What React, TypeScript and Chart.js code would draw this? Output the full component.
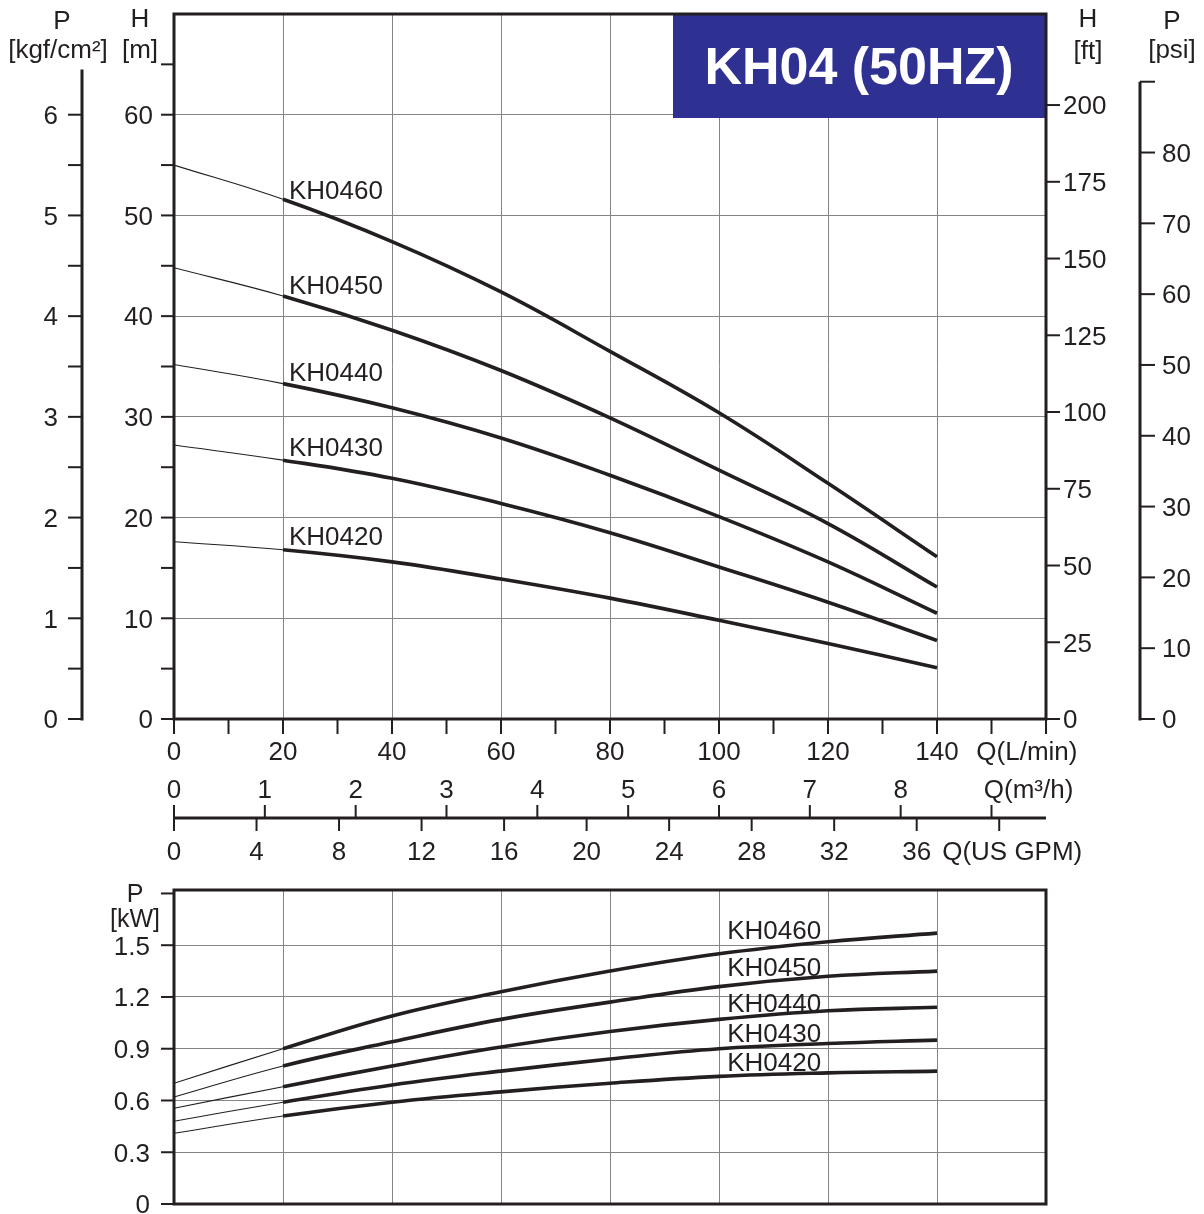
import React, { useEffect, useRef } from 'react';
import { Chart, registerables } from 'chart.js';
Chart.register(...registerables);

// ---------- data ----------
const MODELS = ['KH0460', 'KH0450', 'KH0440', 'KH0430', 'KH0420'];
const FLOW_LPM = [0, 20, 40, 60, 80, 100, 120, 140];

const HEAD_KH0460 = [55.0, 51.6, 47.4, 42.4, 36.5, 30.4, 23.4, 16.1];
const HEAD_KH0450 = [44.8, 42.0, 38.6, 34.6, 29.9, 24.7, 19.4, 13.1];
const HEAD_KH0440 = [35.2, 33.3, 30.9, 27.9, 24.2, 20.1, 15.6, 10.5];
const HEAD_KH0430 = [27.2, 25.7, 23.9, 21.4, 18.5, 15.1, 11.6, 7.8];
const HEAD_KH0420 = [17.6, 16.8, 15.6, 13.9, 12.0, 9.8, 7.5, 5.1];

const POWER_KH0460 = [0.70, 0.90, 1.09, 1.23, 1.35, 1.45, 1.52, 1.57];
const POWER_KH0450 = [0.62, 0.80, 0.94, 1.07, 1.17, 1.26, 1.32, 1.35];
const POWER_KH0440 = [0.555, 0.68, 0.80, 0.91, 1.00, 1.07, 1.12, 1.14];
const POWER_KH0430 = [0.48, 0.59, 0.69, 0.77, 0.84, 0.90, 0.93, 0.95];
const POWER_KH0420 = [0.41, 0.51, 0.59, 0.65, 0.70, 0.74, 0.76, 0.77];

const HEADS = [HEAD_KH0460, HEAD_KH0450, HEAD_KH0440, HEAD_KH0430, HEAD_KH0420];
const POWERS = [POWER_KH0460, POWER_KH0450, POWER_KH0440, POWER_KH0430, POWER_KH0420];

// where the curve names sit (in data units)
const HEAD_LABEL_Q = 21.1;
const HEAD_LABEL_H = [52.6, 43.1, 34.5, 27.0, 18.2];
const POWER_LABEL_Q = 101.5;
const POWER_LABEL_P = [1.59, 1.376, 1.167, 0.993, 0.825];

// tick labels
const M_TICKS = [0, 10, 20, 30, 40, 50, 60];
const M_MINOR = [0, 5, 10, 15, 20, 25, 30, 35, 40, 45, 50, 55, 60, 65];
const KGF_TICKS = [0, 1, 2, 3, 4, 5, 6];
const KGF_MINOR = [0, 0.5, 1, 1.5, 2, 2.5, 3, 3.5, 4, 4.5, 5, 5.5, 6];
const FT_TICKS = [0, 25, 50, 75, 100, 125, 150, 175, 200];
const PSI_TICKS = [0, 10, 20, 30, 40, 50, 60, 70, 80];
const PSI_MARKS = [0, 10, 20, 30, 40, 50, 60, 70, 80, 90];
const LPM_TICKS = [0, 20, 40, 60, 80, 100, 120, 140];
const LPM_MARKS = [0, 10, 20, 30, 40, 50, 60, 70, 80, 90, 100, 110, 120, 130, 140, 150, 160];
const M3H_TICKS = [0, 1, 2, 3, 4, 5, 6, 7, 8];
const M3H_MARKS = [0, 1, 2, 3, 4, 5, 6, 7, 8, 9];
const GPM_TICKS = [0, 4, 8, 12, 16, 20, 24, 28, 32, 36];
const GPM_MARKS = [0, 4, 8, 12, 16, 20, 24, 28, 32, 36, 40];
const KW_TICKS = ['0', '0.3', '0.6', '0.9', '1.2', '1.5'];
const KW_MARKS = [0, 0.3, 0.6, 0.9, 1.2, 1.5, 1.8];

const TITLE = 'KH04 (50HZ)';

// unit conversions
const M_PER_KGF = 10;
const M_PER_FT = 0.3048;
const M_PER_PSI = 0.70307;
const LPM_PER_M3H = 1000 / 60;
const LPM_PER_GPM = 3.78541;

// ---------- style ----------
const INK = '#231f20';
const GRID = '#858585';
const BLUE = '#2e3192';
const FAMILY = '"Liberation Sans", Arial, Helvetica, sans-serif';
const FS = 26;

function label(ctx: CanvasRenderingContext2D, s: string, x: number, yc: number, align: CanvasTextAlign, size = FS, bold = false, color = INK) {
  ctx.font = `${bold ? 'bold ' : ''}${size}px ${FAMILY}`;
  ctx.fillStyle = color;
  ctx.textAlign = align;
  ctx.textBaseline = 'alphabetic';
  ctx.fillText(s, x, yc + size * 0.358);
}
function seg(ctx: CanvasRenderingContext2D, x1: number, y1: number, x2: number, y2: number) {
  ctx.beginPath();
  ctx.moveTo(x1, y1);
  ctx.lineTo(x2, y2);
  ctx.stroke();
}

function makeDatasets(series: number[][]) {
  return series.map((vals, i) => ({
    label: MODELS[i],
    data: FLOW_LPM.map((q, j) => ({ x: q, y: vals[j] })),
    borderColor: INK,
    backgroundColor: INK,
    pointRadius: 0,
    borderWidth: 3.6,
    borderCapStyle: 'butt' as const,
    tension: 0.4,
    segment: {
      borderWidth: (c: any) => (c.p0.parsed.x < 20 ? 1.1 : 3.6),
    },
  }));
}

const topDecor = {
  id: 'topDecor',
  afterDraw(chart: any) {
    const { ctx, chartArea: a, scales } = chart;
    const X = (q: number) => scales.x.getPixelForValue(q);
    const Y = (m: number) => scales.y.getPixelForValue(m);
    ctx.save();

    // title box
    ctx.fillStyle = BLUE;
    ctx.fillRect(a.right - 373, a.top - 1, 372, 105);
    ctx.font = `bold 52px ${FAMILY}`;
    ctx.fillStyle = '#ffffff';
    ctx.textAlign = 'center';
    ctx.textBaseline = 'alphabetic';
    ctx.fillText(TITLE, a.right - 187, a.top + 70);

    // frame
    ctx.strokeStyle = INK;
    ctx.lineWidth = 3;
    ctx.strokeRect(a.left, a.top, a.right - a.left, a.bottom - a.top);

    ctx.lineWidth = 2;
    // left H [m]
    M_MINOR.forEach(v => seg(ctx, a.left - 13, Y(v), a.left, Y(v)));
    M_TICKS.forEach(v => label(ctx, String(v), a.left - 21, Y(v), 'right'));
    label(ctx, 'H', a.left - 34, 18, 'center');
    label(ctx, '[m]', a.left - 34, 49, 'center');

    // left P [kgf/cm²]
    const kx = a.left - 92;
    ctx.lineWidth = 3;
    seg(ctx, kx, Y(6.45 * M_PER_KGF), kx, Y(0) + 1.5);
    ctx.lineWidth = 2;
    KGF_MINOR.forEach(v => seg(ctx, kx - 14, Y(v * M_PER_KGF), kx, Y(v * M_PER_KGF)));
    KGF_TICKS.forEach(v => label(ctx, String(v), kx - 24, Y(v * M_PER_KGF), 'right'));
    label(ctx, 'P', 62, 20, 'center');
    label(ctx, '[kgf/cm²]', 58, 49, 'center');

    // right H [ft]
    FT_TICKS.forEach(v => seg(ctx, a.right, Y(v * M_PER_FT), a.right + 14, Y(v * M_PER_FT)));
    FT_TICKS.forEach(v => label(ctx, String(v), a.right + 17, Y(v * M_PER_FT), 'left'));
    label(ctx, 'H', a.right + 42, 18, 'center');
    label(ctx, '[ft]', a.right + 42, 50, 'center');

    // right P [psi]
    const px = a.right + 94;
    ctx.lineWidth = 3;
    seg(ctx, px, Y(90 * M_PER_PSI), px, Y(0) + 1.5);
    ctx.lineWidth = 2;
    PSI_MARKS.forEach(v => seg(ctx, px, Y(v * M_PER_PSI), px + 15, Y(v * M_PER_PSI)));
    PSI_TICKS.forEach(v => label(ctx, String(v), px + 22, Y(v * M_PER_PSI), 'left'));
    label(ctx, 'P', 1172, 20, 'center');
    label(ctx, '[psi]', 1172, 49, 'center');

    // bottom Q [L/min]
    LPM_MARKS.forEach(v => seg(ctx, X(v), a.bottom, X(v), a.bottom + 15));
    LPM_TICKS.forEach(v => label(ctx, String(v), X(v), a.bottom + 32, 'center'));
    label(ctx, 'Q(L/min)', X(156.5), a.bottom + 32, 'center');

    // Q [m³/h] and [US GPM] axis
    const qy = a.bottom + 99;
    ctx.lineWidth = 3;
    seg(ctx, a.left, qy, a.right, qy);
    ctx.lineWidth = 2;
    M3H_MARKS.forEach(v => seg(ctx, X(v * LPM_PER_M3H), qy - 13, X(v * LPM_PER_M3H), qy));
    M3H_TICKS.forEach(v => label(ctx, String(v), X(v * LPM_PER_M3H), qy - 29, 'center'));
    label(ctx, 'Q(m³/h)', X(156.8), qy - 29, 'center');
    GPM_MARKS.forEach(v => seg(ctx, X(v * LPM_PER_GPM), qy, X(v * LPM_PER_GPM), qy + 13));
    GPM_TICKS.forEach(v => label(ctx, String(v), X(v * LPM_PER_GPM), qy + 33, 'center'));
    label(ctx, 'Q(US GPM)', X(153.8), qy + 33, 'center');

    // curve names
    MODELS.forEach((m, i) => label(ctx, m, X(HEAD_LABEL_Q), Y(HEAD_LABEL_H[i]), 'left'));
    ctx.restore();
  },
};

const bottomDecor = {
  id: 'bottomDecor',
  afterDraw(chart: any) {
    const { ctx, chartArea: a, scales } = chart;
    const X = (q: number) => scales.x.getPixelForValue(q);
    const Y = (p: number) => scales.y.getPixelForValue(p);
    ctx.save();
    ctx.strokeStyle = INK;
    ctx.lineWidth = 3;
    ctx.strokeRect(a.left, a.top, a.right - a.left, a.bottom - a.top);
    ctx.lineWidth = 2;
    KW_MARKS.forEach(v => seg(ctx, a.left - 13, Y(v), a.left, Y(v)));
    KW_TICKS.forEach(s => label(ctx, s, a.left - 24, Y(parseFloat(s)), 'right'));
    label(ctx, 'P', a.left - 39, a.top + 3, 'center', 25);
    label(ctx, '[kW]', a.left - 39, a.top + 28, 'center', 25);
    MODELS.forEach((m, i) => label(ctx, m, X(POWER_LABEL_Q), Y(POWER_LABEL_P[i]), 'left'));
    ctx.restore();
  },
};

export default function App() {
  const topRef = useRef<HTMLCanvasElement>(null);
  const botRef = useRef<HTMLCanvasElement>(null);

  useEffect(() => {
    document.body.style.margin = '0';
    const common = {
      responsive: false,
      animation: false as const,
      events: [] as any[],
      plugins: { legend: { display: false }, tooltip: { enabled: false } },
    };
    const top = new Chart(topRef.current!, {
      type: 'line',
      data: { datasets: makeDatasets(HEADS) as any },
      options: {
        ...common,
        layout: { padding: { left: 174, top: 14, right: 158, bottom: 151 } },
        scales: {
          x: {
            type: 'linear', min: 0, max: 160,
            ticks: { stepSize: 20, display: false },
            grid: { color: GRID, lineWidth: 1, drawTicks: false },
            border: { display: false },
          },
          y: {
            type: 'linear', min: 0, max: 70,
            ticks: { stepSize: 10, display: false },
            grid: { color: GRID, lineWidth: 1, drawTicks: false },
            border: { display: false },
          },
        },
      } as any,
      plugins: [topDecor],
    });
    const bottom = new Chart(botRef.current!, {
      type: 'line',
      data: { datasets: makeDatasets(POWERS) as any },
      options: {
        ...common,
        layout: { padding: { left: 174, top: 20, right: 158, bottom: 10 } },
        scales: {
          x: {
            type: 'linear', min: 0, max: 160,
            ticks: { stepSize: 20, display: false },
            grid: { color: GRID, lineWidth: 1, drawTicks: false },
            border: { display: false },
          },
          y: {
            type: 'linear', min: 0, max: 1.82,
            ticks: { stepSize: 0.3, display: false },
            grid: {
              color: (c: any) => (c.tick && c.tick.value > 1.7 ? 'rgba(0,0,0,0)' : GRID),
              lineWidth: 1, drawTicks: false,
            },
            border: { display: false },
          },
        },
      } as any,
      plugins: [bottomDecor],
    });
    return () => {
      top.destroy();
      bottom.destroy();
    };
  }, []);

  return (
    <div style={{ width: 1204, height: 1214, background: '#fff' }}>
      <canvas ref={topRef} width={1204} height={870} style={{ display: 'block' }} />
      <canvas ref={botRef} width={1204} height={344} style={{ display: 'block' }} />
    </div>
  );
}
